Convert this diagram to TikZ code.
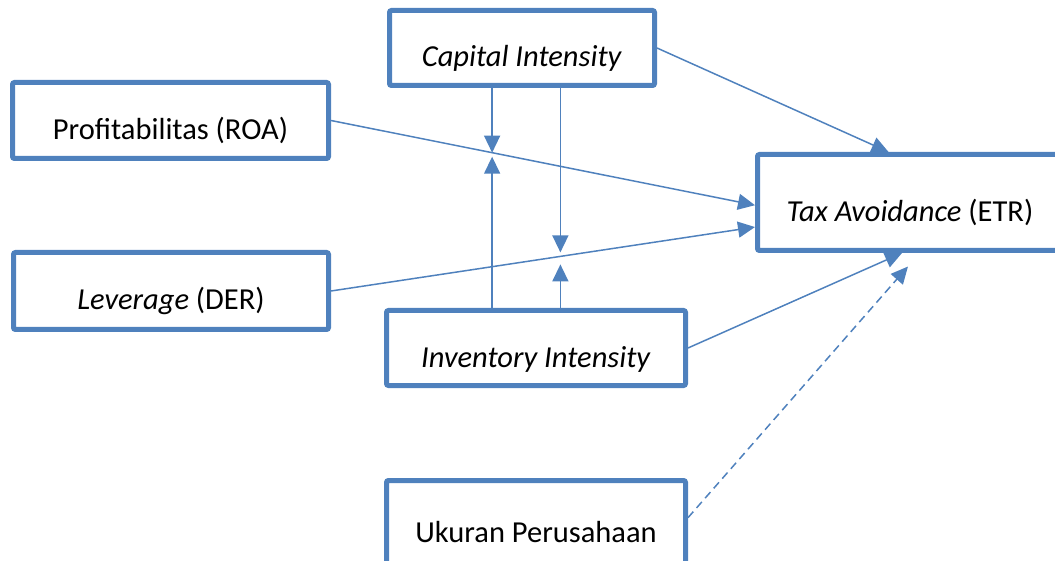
\documentclass[tikz,border=0pt]{standalone}
\usepackage{fontspec}
\setmainfont{Carlito}
\usetikzlibrary{arrows.meta,calc}
\definecolor{figblue}{RGB}{79,129,189}
\tikzset{
  var box/.style={draw=figblue, line width=5pt, rounded corners=2pt, inner sep=0pt, align=center, font=\fontsize{30.5}{36}\selectfont, text height=38pt, text depth=0pt},
  link/.style={draw=figblue, line width=1.5pt, -{Triangle[length=17pt,width=16pt]}},
  dashed link/.style={link, dash pattern=on 8pt off 5pt},
}

\begin{document}
\begin{tikzpicture}[x=1pt,y=-1pt]
\useasboundingbox (0,0) rectangle (1055,561);
% the nodes
\node [var box, minimum width=316pt, minimum height=76pt] (prof) at (170.5,120.5) {Profitabilitas (ROA)};
\node [var box, minimum width=315pt, minimum height=77pt] (lev) at (171,291) {\textit{Leverage} (DER)};
\node [var box, minimum width=265pt, minimum height=75pt] (cap) at (522,48) {\textit{Capital Intensity}};
\node [var box, minimum width=299pt, minimum height=75pt] (inv) at (536,348) {\textit{Inventory Intensity}};
\node [var box, minimum width=299pt, minimum height=85pt] (uk) at (536,523) {Ukuran Perusahaan};
\node [var box, minimum width=305pt, minimum height=96pt] (tax) at (910,202.5) {\textit{Tax Avoidance} (ETR)};
% points where the moderating arrows meet the links
\coordinate (mA) at ($(prof.east)!0.38!(tax.181)$);
\coordinate (mB) at ($(lev.east)!0.541!(tax.189)$);
%drawings of vectors
\draw[link] (cap.east) -- (tax.113);
\draw[link] (prof.east) -- (tax.181);
\draw[link] (lev.east) -- (tax.189);
\draw[link] (inv.east) -- (tax.261);
\draw[dashed link, shorten >=18pt] (uk.2) -- (tax.281);
\draw[link] (cap.south -| mA) -- (mA);
\draw[link, shorten >=4pt] (inv.north -| mA) -- (mA);
\draw[link, shorten >=4pt] (cap.south -| mB) -- (mB);
\draw[link, shorten >=8pt] (inv.north -| mB) -- (mB);
\end{tikzpicture}
\end{document}
